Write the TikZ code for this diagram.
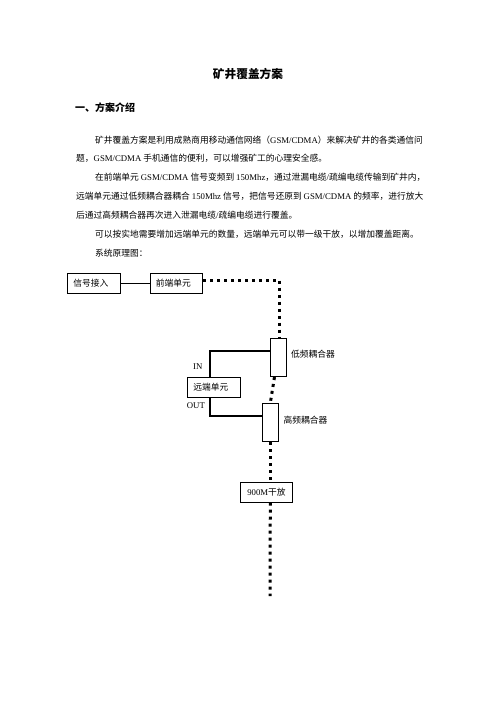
\documentclass[tikz,border=0pt]{standalone}
\usepackage{fontspec}
\setmainfont{Noto Sans CJK SC}
\newfontfamily\lat{Liberation Serif}
\newcommand{\lt}[1]{{\lat #1}}
\begin{document}
\begin{tikzpicture}[x=1pt,y=-1pt,
  bodytxt/.style={anchor=base west, inner sep=0pt, font=\fontsize{8.75}{10}\selectfont},
  unitbox/.style={draw, line width=0.7pt, inner sep=0pt, align=left, font=\fontsize{8.75}{10}\selectfont},
  coupler/.style={draw, line width=0.7pt, inner sep=0pt},
  lbl/.style={anchor=west, inner sep=0pt, font=\fontsize{8.75}{10}\selectfont},
  dots/.style={line width=3pt, dash pattern=on 3pt off 4pt},
  feed/.style={line width=2pt},
  thinline/.style={line width=0.7pt}]
\useasboundingbox (0,0) rectangle (496,701);
% title and heading
\node[anchor=base, inner sep=0pt, font=\fontsize{11.7}{14}\selectfont\bfseries] (title) at (248,78.4) {矿井覆盖方案};
\node[anchor=base west, inner sep=0pt, font=\fontsize{10}{12}\selectfont\bfseries] (head) at (75,111.8) {一、方案介绍};
% body
\node[bodytxt] (l1) at (95,143.3) {矿井覆盖方案是利用成熟商用移动通信网络（\lt{GSM/CDMA}）来解决矿井的各类通信问};
\node[bodytxt] (l2) at (76,161.8) {题，\lt{GSM/CDMA} 手机通信的便利，可以增强矿工的心理安全感。};
\node[bodytxt] (l3) at (95,180.8) {在前端单元 \lt{GSM/CDMA} 信号变频到 \lt{150Mhz}，通过泄漏电缆\lt{/}疏编电缆传输到矿井内，};
\node[bodytxt] (l4) at (76,199.8) {远端单元通过低频耦合器耦合 \lt{150Mhz} 信号，把信号还原到 \lt{GSM/CDMA} 的频率，进行放大};
\node[bodytxt] (l5) at (76,218.8) {后通过高频耦合器再次进入泄漏电缆\lt{/}疏编电缆进行覆盖。};
\node[bodytxt] (l6) at (95,237.3) {可以按实地需要增加远端单元的数量，远端单元可以带一级干放，以增加覆盖距离。};
\node[bodytxt] (l7) at (95,256.3) {系统原理图：};
% diagram boxes
\node[unitbox, minimum width=53.4pt, minimum height=20pt, text width=41.4pt] (sig) at (94,283.3) {信号接入};
\node[unitbox, minimum width=52.7pt, minimum height=20pt, text width=40.7pt] (front) at (176.3,283.3) {前端单元};
\node[coupler, minimum width=15.7pt, minimum height=38.4pt] (low) at (278,357.5) {};
\node[unitbox, minimum width=53.4pt, minimum height=20.4pt, text width=41.4pt] (remote) at (214,387.5) {远端单元};
\node[coupler, minimum width=16pt, minimum height=38.4pt] (high) at (270.3,422.5) {};
\node[unitbox, minimum width=51.6pt, minimum height=19.6pt, align=center] (amp) at (266.5,492.5) {\lt{900M}干放};
% labels
\node[lbl] (lowlbl) at (291,354) {低频耦合器};
\node[lbl] (highlbl) at (283.3,420) {高频耦合器};
\node[lbl, font=\fontsize{8.75}{10}\selectfont\lat] (inlbl) at (193,367) {IN};
\node[lbl, font=\fontsize{8.75}{10}\selectfont\lat] (outlbl) at (186.7,406) {OUT};
% connectors
\draw[thinline] (sig) -- (front);
\coordinate (c1) at (279.5,280);
\draw[dots] (front.east |- c1) -- (c1) -- (c1 |- low.north);
\coordinate (ci) at (210,351);
\draw[feed] (ci -| low.west) -- (ci) -- (ci |- remote.north);
\coordinate (co) at (210,416);
\draw[feed] (co |- remote.south) -- (co) -- (co -| high.west);
\draw[dots] ([xshift=-3.5pt]low.south) -- (high.north);
\coordinate (bend) at (270,596);
\draw[dots] (high.south) -- (high.south |- amp.north);
\draw[dots] (high.south |- amp.south) -- (bend);
\end{tikzpicture}
\end{document}
